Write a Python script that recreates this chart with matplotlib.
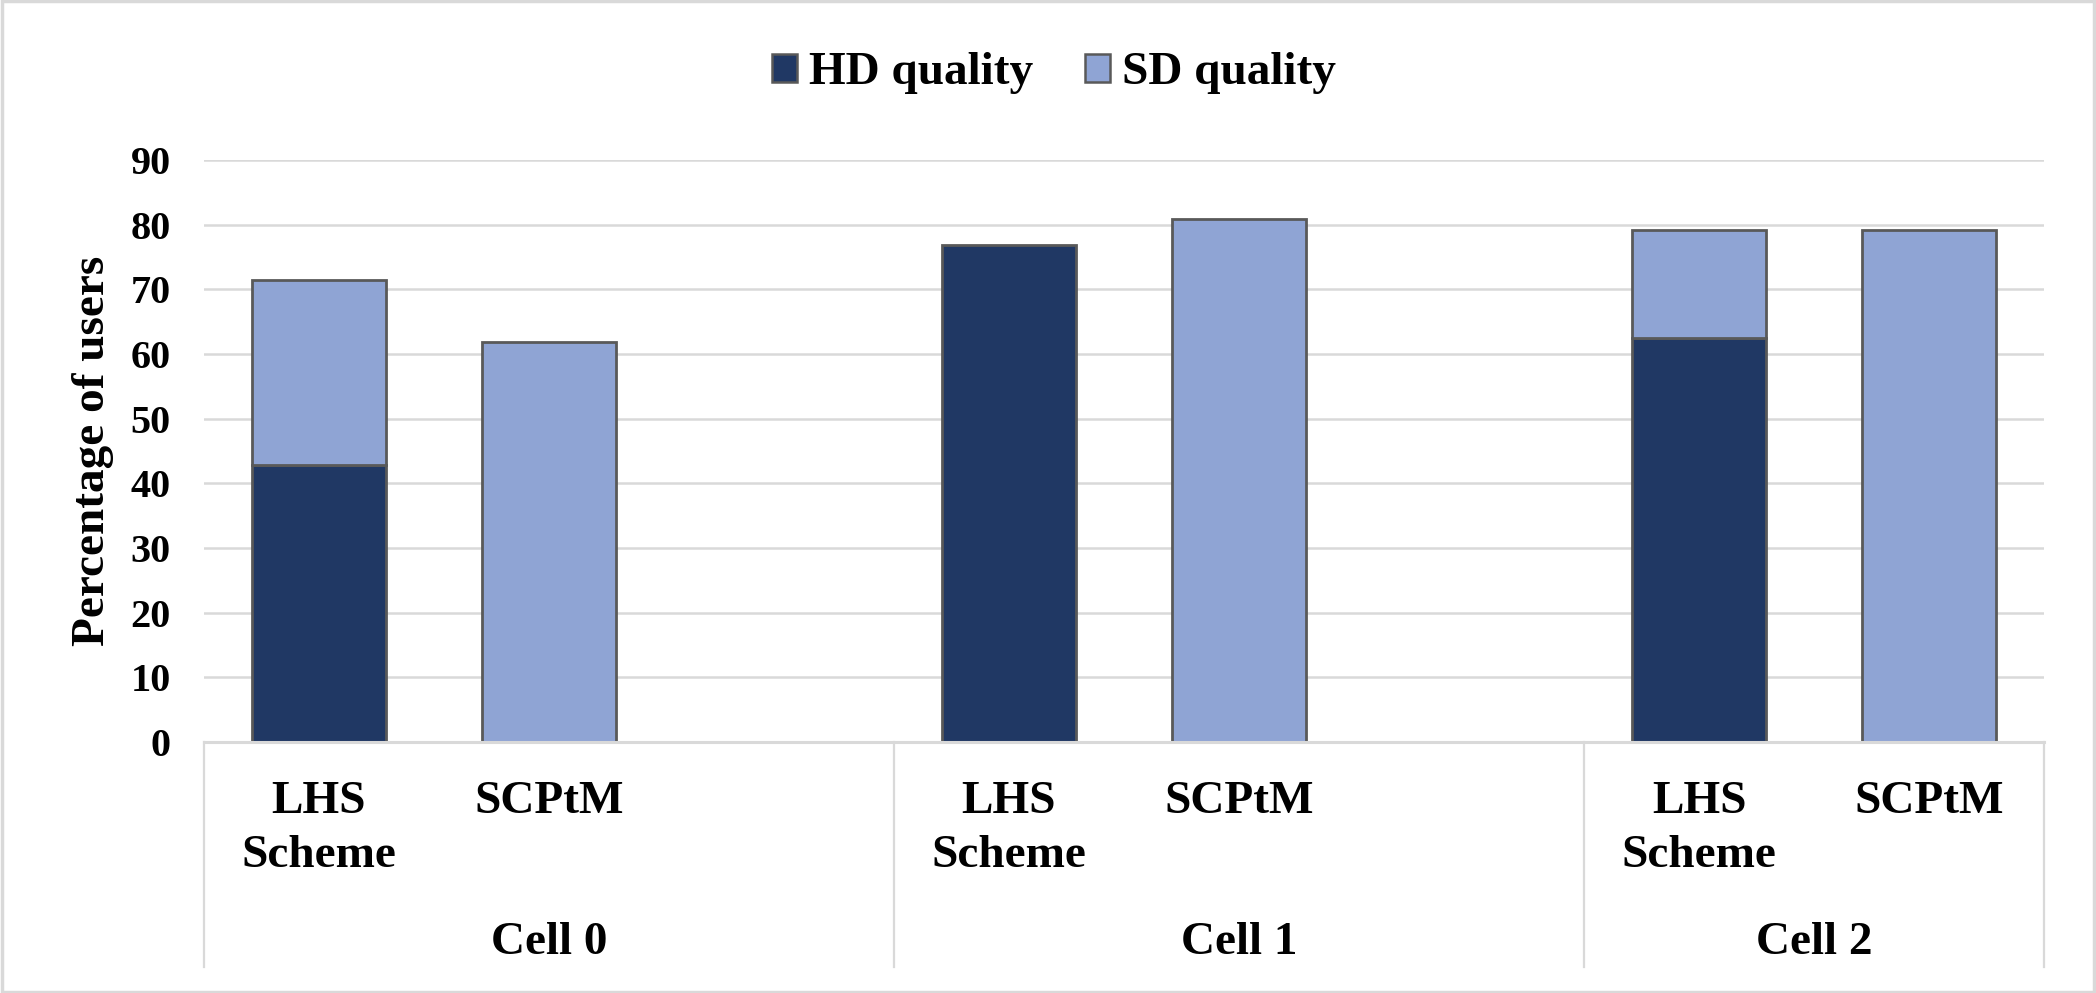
import numpy as np
import matplotlib
matplotlib.use('Agg')
import matplotlib.pyplot as plt
from matplotlib.patches import Patch, Rectangle
import matplotlib.transforms as mtransforms

plt.rcParams['font.family'] = ['Liberation Serif', 'DejaVu Serif']
plt.rcParams['font.weight'] = 'bold'

# data
cells = ['Cell 0', 'Cell 1', 'Cell 2']
schemes = ['LHS\nScheme', 'SCPtM']
hd = [42.8, 0.0, 76.8, 0.0, 62.4, 0.0]
sd = [28.6, 61.8, 0.0, 80.8, 16.7, 79.1]
yticks = [0, 10, 20, 30, 40, 50, 60, 70, 80, 90]

hd_color = '#203864'
sd_color = '#8FA4D4'
edge = '#595959'
grid = '#D9D9D9'

fig = plt.figure(figsize=(20.96, 9.93), dpi=100)
ax = fig.add_axes([0.0973, 0.2528, 0.8779, 0.5861])

# 3 slots per cell, the third one is empty
pos = []
labels = []
for i in range(len(cells)):
    for j in range(len(schemes)):
        pos.append(i * 3 + j)
        labels.append(schemes[j])
pos = np.array(pos)
hd = np.array(hd)
sd = np.array(sd)
w = 0.585

m = hd > 0
ax.bar(pos[m], hd[m], w, color=hd_color, edgecolor=edge, linewidth=2.0, zorder=3)
m = sd > 0
ax.bar(pos[m], sd[m], w, bottom=hd[m], color=sd_color, edgecolor=edge, linewidth=2.0, zorder=3)

ax.set_xlim(-0.5, 7.5)
ax.set_ylim(0, 90)
ax.set_yticks(yticks)
ax.yaxis.grid(True, color=grid, linewidth=1.8, zorder=0)
ax.set_axisbelow(True)
for s in ['top', 'right', 'left']:
    ax.spines[s].set_visible(False)
ax.spines['bottom'].set_color(grid)
ax.spines['bottom'].set_linewidth(2.2)
ax.spines['bottom'].set_zorder(4)

ax.set_xticks(pos)
ax.set_xticklabels(labels, fontsize=34, fontweight='bold', linespacing=1.37)
ax.tick_params(axis='x', length=0, pad=28)
ax.tick_params(axis='y', length=0, pad=24, labelsize=29)

ax.set_ylabel('Percentage of users', fontsize=34, fontweight='bold')
ax.yaxis.set_label_coords(-0.049, 0.5)

# second level of the category axis
trans = mtransforms.blended_transform_factory(ax.transData, ax.transAxes)
for x in [-0.5, 2.5, 5.5, 7.5]:
    ax.plot([x, x], [0, -0.387], transform=trans, color=grid, linewidth=1.6, clip_on=False)
centers = [1.0, 4.0, 6.5]
for c, name in zip(centers, cells):
    ax.text(c, -0.346, name, transform=trans, ha='center', va='center',
            fontsize=34, fontweight='bold')

handles = [Patch(facecolor=hd_color, edgecolor=edge, linewidth=1.8, label='HD quality'),
           Patch(facecolor=sd_color, edgecolor=edge, linewidth=1.8, label='SD quality')]
fig.legend(handles=handles, loc='center', bbox_to_anchor=(0.503, 0.926), ncol=2,
           frameon=False, prop={'size': 34, 'weight': 'bold'},
           handlelength=0.53, handleheight=0.53, handletextpad=0.25, columnspacing=1.1)

fig.patches.append(Rectangle((0.001, 0.0015), 0.998, 0.997, transform=fig.transFigure,
                             fill=False, edgecolor=grid, linewidth=2.5))

fig.savefig('out.png', dpi=100)
